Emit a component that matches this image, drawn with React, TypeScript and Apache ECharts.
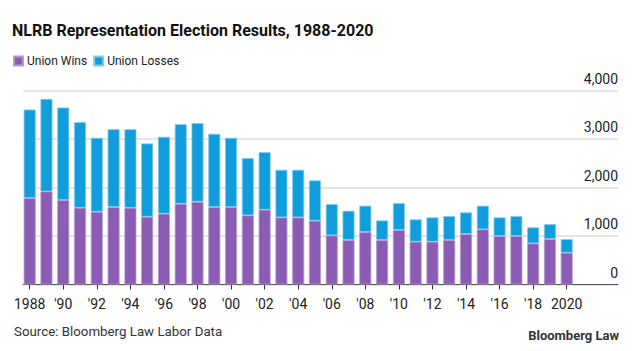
import React, { useEffect, useRef } from "react";
import * as echarts from "echarts";

const years: string[] = [
  "1988", "1989", "1990", "1991", "1992", "1993", "1994", "1995", "1996", "1997", "1998",
  "1999", "2000", "2001", "2002", "2003", "2004", "2005", "2006", "2007", "2008", "2009",
  "2010", "2011", "2012", "2013", "2014", "2015", "2016", "2017", "2018", "2019", "2020",
];
const unionWins: number[] = [
  1782, 1919, 1740, 1582, 1500, 1596, 1582, 1397, 1459, 1665, 1706,
  1596, 1596, 1425, 1541, 1384, 1384, 1315, 1013, 917, 1081, 917,
  1123, 882, 882, 917, 1040, 1137, 999, 999, 848, 937, 655,
];
const totals: number[] = [
  3608, 3827, 3650, 3347, 3024, 3203, 3203, 2908, 3045, 3306, 3327,
  3107, 3024, 2606, 2729, 2365, 2365, 2146, 1658, 1520, 1624, 1322,
  1679, 1343, 1384, 1411, 1487, 1624, 1384, 1411, 1178, 1246, 937,
];
const unionLosses: number[] = totals.map((t, i) => t - unionWins[i]);
const yTicks: number[] = [0, 1000, 2000, 3000, 4000];

const PURPLE = "#8a5cb4";
const BLUE = "#119ddb";
const FONT = "Roboto, 'Helvetica Neue', Arial, sans-serif";

function fmtYear(y: string): string {
  if (y === "1988" || y === "2020") return y;
  return "'" + y.slice(2);
}

export default function App() {
  const ref = useRef<HTMLDivElement>(null);
  useEffect(() => {
    if (!ref.current) return;
    const chart = echarts.init(ref.current, undefined, { renderer: "svg" });
    const top = 90.5;
    const h = 194;
    chart.setOption({
      animation: false,
      textStyle: { fontFamily: FONT },
      title: {
        text: "NLRB Representation Election Results, 1988-2020",
        left: 7,
        top: 17,
        textStyle: { fontFamily: FONT, fontSize: 16, fontWeight: "bold", color: "#111" },
      },
      legend: {
        left: 8,
        top: 50,
        icon: "rect",
        itemWidth: 9,
        itemHeight: 9,
        itemGap: 6,
        textStyle: { fontFamily: FONT, fontSize: 12, color: "#222", padding: [0, 0, 0, -1] },
        data: ["Union Wins", "Union Losses"],
      },
      grid: [
        { left: 21.3, right: 633 - 575.1, top, height: h },
        { left: 23.3, right: 15, top, height: h },
      ],
      xAxis: [
        {
          type: "category",
          gridIndex: 0,
          data: years,
          axisLine: { show: false },
          axisTick: { show: true, interval: 1, alignWithLabel: true, length: 5, lineStyle: { color: "#333" } },
          axisLabel: {
            interval: 1,
            margin: 12,
            fontSize: 14,
            color: "#222",
            fontFamily: FONT,
            formatter: (v: string) => fmtYear(v),
          },
        },
        {
          type: "value",
          gridIndex: 1,
          min: 0,
          max: 1,
          axisLine: { show: true, onZero: true, lineStyle: { color: "#555", width: 1.2 } },
          axisTick: { show: false },
          axisLabel: { show: false },
          splitLine: { show: false },
        },
      ],
      yAxis: [
        {
          type: "value",
          gridIndex: 0,
          min: 0,
          max: 4000,
          interval: 1000,
          show: false,
          splitLine: { show: false },
        },
        {
          type: "value",
          gridIndex: 1,
          position: "right",
          min: yTicks[0],
          max: yTicks[yTicks.length - 1],
          interval: 1000,
          axisLine: { show: false },
          axisTick: { show: false },
          splitLine: { show: true, lineStyle: { color: "#dcdcdc", width: 1.5 } },
          axisLabel: {
            inside: true,
            margin: 0,
            verticalAlign: "bottom",
            padding: [0, 0, 5, 0],
            fontSize: 14,
            color: "#222",
            fontFamily: FONT,
            formatter: (v: number) => v.toLocaleString("en-US"),
          },
        },
      ],
      series: [
        {
          name: "Union Wins",
          type: "bar",
          stack: "total",
          xAxisIndex: 0,
          yAxisIndex: 0,
          barWidth: 12,
          data: unionWins,
          itemStyle: { color: PURPLE, borderColor: "#b39bd1", borderWidth: 0.8 },
        },
        {
          name: "Union Losses",
          type: "bar",
          stack: "total",
          xAxisIndex: 0,
          yAxisIndex: 0,
          barWidth: 12,
          data: unionLosses,
          itemStyle: { color: BLUE, borderColor: "#7fcdef", borderWidth: 0.8 },
        },
      ],
      graphic: [
        {
          type: "text",
          left: 14,
          top: 325,
          style: { text: "Source: Bloomberg Law Labor Data", fontFamily: FONT, fontSize: 13.3, fill: "#333" },
        },
        {
          type: "text",
          right: 14,
          top: 329,
          style: { text: "Bloomberg Law", fontFamily: FONT, fontSize: 13, fontWeight: "bold", fill: "#333" },
        },
      ],
    });
    return () => chart.dispose();
  }, []);
  return (
    <div
      ref={ref}
      style={{ position: "fixed", left: 0, top: 0, width: 633, height: 351, background: "#fff" }}
    />
  );
}
